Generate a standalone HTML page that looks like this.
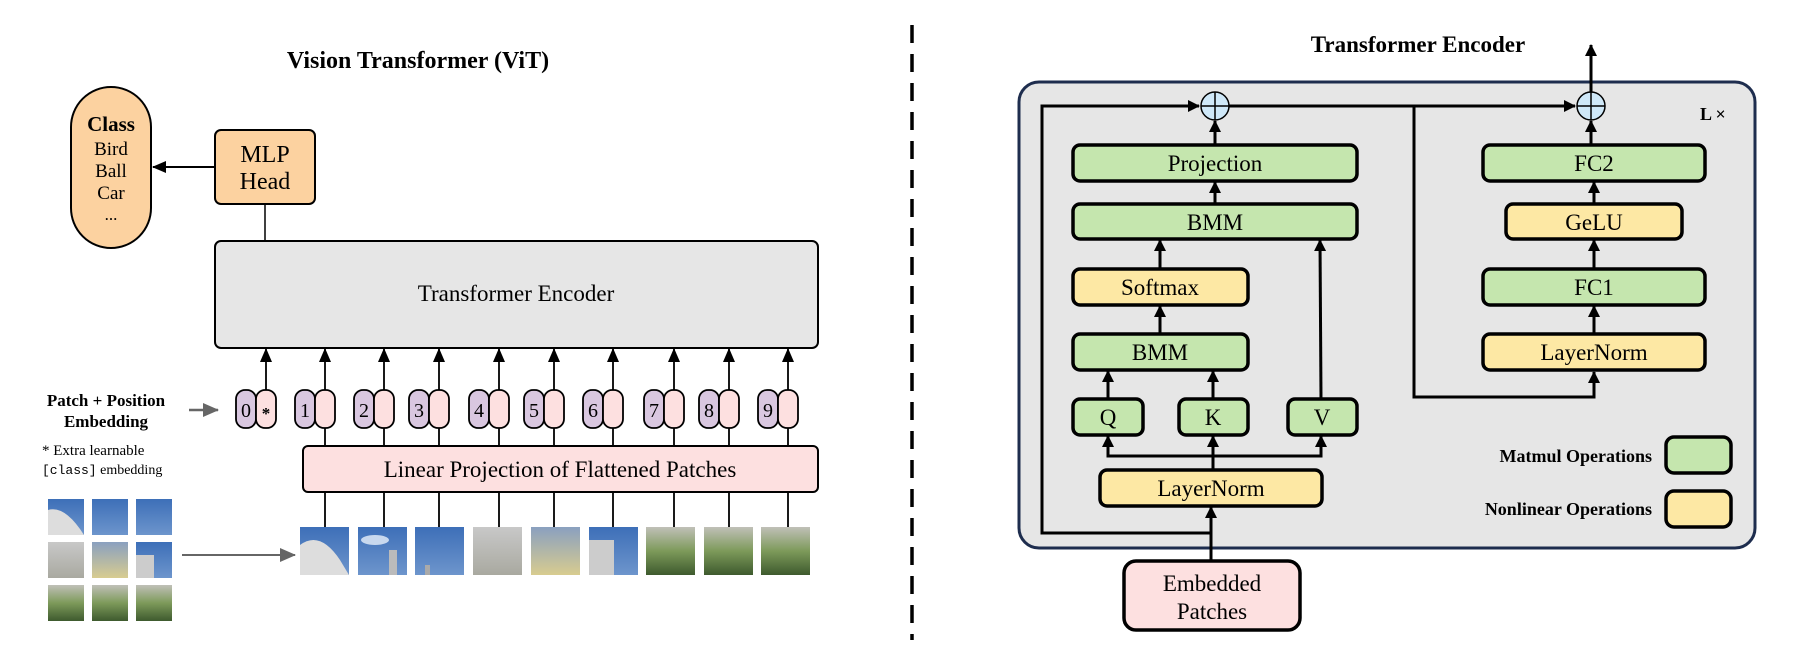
<!DOCTYPE html>
<html><head><meta charset="utf-8"><style>
html,body{margin:0;padding:0;background:#fff;}
svg{display:block;font-family:"Liberation Serif",serif;}
</style></head><body>
<svg width="1810" height="656" viewBox="0 0 1810 656" xmlns="http://www.w3.org/2000/svg">
<defs>
<marker id="a" markerWidth="12" markerHeight="12" refX="11" refY="6" orient="auto" markerUnits="userSpaceOnUse"><path d="M0,0 L12,6 L0,12 z" fill="#000"/></marker>
<marker id="b" markerWidth="14" markerHeight="12" refX="13" refY="6" orient="auto" markerUnits="userSpaceOnUse"><path d="M0,0 L14,6 L0,12 z" fill="#000"/></marker>
<marker id="g" markerWidth="16" markerHeight="14" refX="15" refY="7" orient="auto" markerUnits="userSpaceOnUse"><path d="M0,0 L16,7 L0,14 z" fill="#666"/></marker>
<linearGradient id="sky" x1="0" y1="0" x2="0" y2="1"><stop offset="0" stop-color="#3d6fb8"/><stop offset="1" stop-color="#6d95cc"/></linearGradient>
<linearGradient id="bld" x1="0" y1="0" x2="0" y2="1"><stop offset="0" stop-color="#c8c8c8"/><stop offset="1" stop-color="#a9a9a0"/></linearGradient>
<linearGradient id="yel" x1="0" y1="0" x2="0" y2="1"><stop offset="0" stop-color="#8aa0c0"/><stop offset="1" stop-color="#d8cc90"/></linearGradient>
<linearGradient id="grn" x1="0" y1="0" x2="0" y2="1"><stop offset="0" stop-color="#c0c0b8"/><stop offset="0.5" stop-color="#7d9a5a"/><stop offset="1" stop-color="#3e5a2e"/></linearGradient>
</defs>

<text x="418" y="68" font-size="24" font-weight="bold" text-anchor="middle">Vision Transformer (ViT)</text>

<rect x="71" y="87" width="80" height="161" rx="40" fill="#fcd2a0" stroke="#000" stroke-width="2"/>
<text x="111" y="131" font-size="21" font-weight="bold" text-anchor="middle">Class</text>
<text x="111" y="155" font-size="19" text-anchor="middle">Bird</text>
<text x="111" y="177" font-size="19" text-anchor="middle">Ball</text>
<text x="111" y="199" font-size="19" text-anchor="middle">Car</text>
<text x="111" y="220" font-size="17" text-anchor="middle">...</text>

<rect x="215" y="130" width="100" height="74" rx="6" fill="#fcd2a0" stroke="#000" stroke-width="2"/>
<text x="265" y="162" font-size="24" text-anchor="middle">MLP</text>
<text x="265" y="189" font-size="24" text-anchor="middle">Head</text>
<line x1="215" y1="167" x2="153" y2="167" stroke="#000" stroke-width="2" marker-end="url(#b)"/>
<line x1="265" y1="204" x2="265" y2="241" stroke="#000" stroke-width="1.5"/>

<rect x="215" y="241" width="603" height="107" rx="6" fill="#e6e6e6" stroke="#000" stroke-width="2"/>
<text x="516" y="301" font-size="23" text-anchor="middle">Transformer Encoder</text>

<text x="106" y="406" font-size="17" font-weight="bold" text-anchor="middle">Patch + Position</text>
<text x="106" y="427" font-size="17" font-weight="bold" text-anchor="middle">Embedding</text>
<line x1="189" y1="410" x2="218" y2="410" stroke="#666" stroke-width="2.5" marker-end="url(#g)"/>
<text x="42" y="455" font-size="15">* Extra learnable</text>
<text x="42" y="474" font-size="14"><tspan font-family="Liberation Mono,monospace" font-size="13">[class]</tspan> embedding</text>

<g font-size="20" text-anchor="middle">
<rect x="236" y="390" width="20" height="38" rx="9" fill="#d9c7e0" stroke="#000" stroke-width="1.8"/><rect x="256" y="390" width="20" height="38" rx="9" fill="#fde0e0" stroke="#000" stroke-width="1.8"/><text x="246" y="417">0</text><text x="266" y="419" font-size="17" font-weight="bold">*</text>
<rect x="295" y="390" width="20" height="38" rx="9" fill="#d9c7e0" stroke="#000" stroke-width="1.8"/><rect x="315" y="390" width="20" height="38" rx="9" fill="#fde0e0" stroke="#000" stroke-width="1.8"/><text x="305" y="417">1</text>
<rect x="354" y="390" width="20" height="38" rx="9" fill="#d9c7e0" stroke="#000" stroke-width="1.8"/><rect x="374" y="390" width="20" height="38" rx="9" fill="#fde0e0" stroke="#000" stroke-width="1.8"/><text x="364" y="417">2</text>
<rect x="409" y="390" width="20" height="38" rx="9" fill="#d9c7e0" stroke="#000" stroke-width="1.8"/><rect x="429" y="390" width="20" height="38" rx="9" fill="#fde0e0" stroke="#000" stroke-width="1.8"/><text x="419" y="417">3</text>
<rect x="469" y="390" width="20" height="38" rx="9" fill="#d9c7e0" stroke="#000" stroke-width="1.8"/><rect x="489" y="390" width="20" height="38" rx="9" fill="#fde0e0" stroke="#000" stroke-width="1.8"/><text x="479" y="417">4</text>
<rect x="524" y="390" width="20" height="38" rx="9" fill="#d9c7e0" stroke="#000" stroke-width="1.8"/><rect x="544" y="390" width="20" height="38" rx="9" fill="#fde0e0" stroke="#000" stroke-width="1.8"/><text x="534" y="417">5</text>
<rect x="583" y="390" width="20" height="38" rx="9" fill="#d9c7e0" stroke="#000" stroke-width="1.8"/><rect x="603" y="390" width="20" height="38" rx="9" fill="#fde0e0" stroke="#000" stroke-width="1.8"/><text x="593" y="417">6</text>
<rect x="644" y="390" width="20" height="38" rx="9" fill="#d9c7e0" stroke="#000" stroke-width="1.8"/><rect x="664" y="390" width="20" height="38" rx="9" fill="#fde0e0" stroke="#000" stroke-width="1.8"/><text x="654" y="417">7</text>
<rect x="699" y="390" width="20" height="38" rx="9" fill="#d9c7e0" stroke="#000" stroke-width="1.8"/><rect x="719" y="390" width="20" height="38" rx="9" fill="#fde0e0" stroke="#000" stroke-width="1.8"/><text x="709" y="417">8</text>
<rect x="758" y="390" width="20" height="38" rx="9" fill="#d9c7e0" stroke="#000" stroke-width="1.8"/><rect x="778" y="390" width="20" height="38" rx="9" fill="#fde0e0" stroke="#000" stroke-width="1.8"/><text x="768" y="417">9</text>
</g>
<g stroke="#000" stroke-width="1.8">
<line x1="266" y1="390" x2="266" y2="349" marker-end="url(#b)"/>
<line x1="325" y1="390" x2="325" y2="349" marker-end="url(#b)"/>
<line x1="384" y1="390" x2="384" y2="349" marker-end="url(#b)"/>
<line x1="439" y1="390" x2="439" y2="349" marker-end="url(#b)"/>
<line x1="499" y1="390" x2="499" y2="349" marker-end="url(#b)"/>
<line x1="554" y1="390" x2="554" y2="349" marker-end="url(#b)"/>
<line x1="613" y1="390" x2="613" y2="349" marker-end="url(#b)"/>
<line x1="674" y1="390" x2="674" y2="349" marker-end="url(#b)"/>
<line x1="729" y1="390" x2="729" y2="349" marker-end="url(#b)"/>
<line x1="788" y1="390" x2="788" y2="349" marker-end="url(#b)"/>
<line x1="325" y1="428" x2="325" y2="446"/><line x1="384" y1="428" x2="384" y2="446"/><line x1="439" y1="428" x2="439" y2="446"/><line x1="499" y1="428" x2="499" y2="446"/><line x1="554" y1="428" x2="554" y2="446"/><line x1="613" y1="428" x2="613" y2="446"/><line x1="674" y1="428" x2="674" y2="446"/><line x1="729" y1="428" x2="729" y2="446"/><line x1="788" y1="428" x2="788" y2="446"/>
<line x1="325" y1="492" x2="325" y2="527"/><line x1="384" y1="492" x2="384" y2="527"/><line x1="439" y1="492" x2="439" y2="527"/><line x1="499" y1="492" x2="499" y2="527"/><line x1="554" y1="492" x2="554" y2="527"/><line x1="613" y1="492" x2="613" y2="527"/><line x1="674" y1="492" x2="674" y2="527"/><line x1="729" y1="492" x2="729" y2="527"/><line x1="788" y1="492" x2="788" y2="527"/>
</g>
<rect x="303" y="446" width="515" height="46" rx="5" fill="#fde0e0" stroke="#000" stroke-width="2"/>
<text x="560" y="477" font-size="23" text-anchor="middle">Linear Projection of Flattened Patches</text>

<rect x="300" y="527" width="49" height="48" fill="url(#sky)"/><path d="M300,545 Q320,530 340,560 L349,575 L300,575z" fill="#ddd"/>
<rect x="358" y="527" width="49" height="48" fill="url(#sky)"/><ellipse cx="375" cy="540" rx="14" ry="5" fill="#c8d8ee"/><rect x="389" y="550" width="8" height="25" fill="#bbb"/>
<rect x="415" y="527" width="49" height="48" fill="url(#sky)"/><rect x="425" y="565" width="5" height="10" fill="#aaa"/>
<rect x="473" y="527" width="49" height="48" fill="url(#bld)"/>
<rect x="531" y="527" width="49" height="48" fill="url(#yel)"/>
<rect x="589" y="527" width="49" height="48" fill="url(#sky)"/><rect x="589" y="540" width="25" height="35" fill="#ccc"/>
<rect x="646" y="527" width="49" height="48" fill="url(#grn)"/>
<rect x="704" y="527" width="49" height="48" fill="url(#grn)"/>
<rect x="761" y="527" width="49" height="48" fill="url(#grn)"/>
<rect x="48" y="499" width="36" height="36" fill="url(#sky)"/><path d="M48,510 Q65,505 84,535 L48,535z" fill="#ddd"/>
<rect x="92" y="499" width="36" height="36" fill="url(#sky)"/>
<rect x="136" y="499" width="36" height="36" fill="url(#sky)"/>
<rect x="48" y="542" width="36" height="36" fill="url(#bld)"/>
<rect x="92" y="542" width="36" height="36" fill="url(#yel)"/>
<rect x="136" y="542" width="36" height="36" fill="url(#sky)"/><rect x="136" y="555" width="18" height="23" fill="#ccc"/>
<rect x="48" y="585" width="36" height="36" fill="url(#grn)"/>
<rect x="92" y="585" width="36" height="36" fill="url(#grn)"/>
<rect x="136" y="585" width="36" height="36" fill="url(#grn)"/>
<line x1="182" y1="555" x2="295" y2="555" stroke="#666" stroke-width="2" marker-end="url(#g)"/>

<line x1="912" y1="25" x2="912" y2="640" stroke="#000" stroke-width="3.5" stroke-dasharray="18,11"/>

<text x="1418" y="52" font-size="23" font-weight="bold" text-anchor="middle">Transformer Encoder</text>
<rect x="1019" y="82" width="736" height="466" rx="20" fill="#e6e6e6" stroke="#1e2d4e" stroke-width="3"/>
<text x="1700" y="120" font-size="18" font-weight="bold">L ×</text>

<g stroke="#000" stroke-width="3" fill="none">
<polyline points="1211,561 1211,533 1042,533 1042,106 1199,106" marker-end="url(#a)"/>
<line x1="1211" y1="561" x2="1211" y2="507" marker-end="url(#a)"/>
<line x1="1229" y1="106" x2="1575" y2="106" marker-end="url(#a)"/>
<polyline points="1414,106 1414,397 1594,397 1594,372" marker-end="url(#a)"/>
<line x1="1591" y1="92" x2="1591" y2="45" marker-end="url(#a)"/>
<line x1="1215" y1="145" x2="1215" y2="121" marker-end="url(#a)"/>
<line x1="1215" y1="204" x2="1215" y2="182" marker-end="url(#a)"/>
<line x1="1160" y1="269" x2="1160" y2="240" marker-end="url(#a)"/>
<line x1="1160" y1="334" x2="1160" y2="306" marker-end="url(#a)"/>
<line x1="1108" y1="399" x2="1108" y2="371" marker-end="url(#a)"/>
<line x1="1213" y1="399" x2="1213" y2="371" marker-end="url(#a)"/>
<line x1="1321" y1="399" x2="1320" y2="240" marker-end="url(#a)"/>
<polyline points="1108,436 1108,456 1321,456 1321,436"/>
<line x1="1108" y1="456" x2="1108" y2="436" marker-end="url(#a)"/>
<line x1="1321" y1="456" x2="1321" y2="436" marker-end="url(#a)"/>
<line x1="1213" y1="470" x2="1213" y2="436" marker-end="url(#a)"/>
<line x1="1591" y1="145" x2="1591" y2="121" marker-end="url(#a)"/>
<line x1="1594" y1="204" x2="1594" y2="182" marker-end="url(#a)"/>
<line x1="1594" y1="269" x2="1594" y2="240" marker-end="url(#a)"/>
<line x1="1594" y1="334" x2="1594" y2="306" marker-end="url(#a)"/>
</g>
<g stroke="#000" stroke-width="1.5">
<circle cx="1215" cy="106" r="14" fill="#cfe8f8"/><line x1="1201" y1="106" x2="1229" y2="106"/><line x1="1215" y1="92" x2="1215" y2="120"/>
<circle cx="1591" cy="106" r="14" fill="#cfe8f8"/><line x1="1577" y1="106" x2="1605" y2="106"/><line x1="1591" y1="92" x2="1591" y2="120"/>
</g>

<g stroke="#000" stroke-width="3.5">
<rect x="1073" y="145" width="284" height="36" rx="7" fill="#c5e6ae"/>
<rect x="1073" y="204" width="284" height="35" rx="7" fill="#c5e6ae"/>
<rect x="1073" y="269" width="175" height="36" rx="7" fill="#fde8a4"/>
<rect x="1073" y="334" width="175" height="36" rx="7" fill="#c5e6ae"/>
<rect x="1073" y="399" width="70" height="36" rx="7" fill="#c5e6ae"/>
<rect x="1179" y="399" width="69" height="36" rx="7" fill="#c5e6ae"/>
<rect x="1288" y="399" width="69" height="36" rx="7" fill="#c5e6ae"/>
<rect x="1100" y="470" width="222" height="36" rx="7" fill="#fde8a4"/>
<rect x="1124" y="561" width="176" height="69" rx="12" fill="#fde0e0"/>
<rect x="1483" y="145" width="222" height="36" rx="7" fill="#c5e6ae"/>
<rect x="1506" y="204" width="176" height="35" rx="7" fill="#fde8a4"/>
<rect x="1483" y="269" width="222" height="36" rx="7" fill="#c5e6ae"/>
<rect x="1483" y="334" width="222" height="36" rx="7" fill="#fde8a4"/>
<rect x="1666" y="437" width="65" height="36" rx="8" fill="#c5e6ae"/>
<rect x="1666" y="491" width="65" height="36" rx="8" fill="#fde8a4"/>
</g>
<g font-size="23" text-anchor="middle">
<text x="1215" y="171">Projection</text>
<text x="1215" y="230">BMM</text>
<text x="1160" y="295">Softmax</text>
<text x="1160" y="360">BMM</text>
<text x="1108" y="425">Q</text>
<text x="1213" y="425">K</text>
<text x="1322" y="425">V</text>
<text x="1211" y="496">LayerNorm</text>
<text x="1212" y="591">Embedded</text>
<text x="1212" y="619">Patches</text>
<text x="1594" y="171">FC2</text>
<text x="1594" y="230">GeLU</text>
<text x="1594" y="295">FC1</text>
<text x="1594" y="360">LayerNorm</text>
</g>
<text x="1652" y="462" font-size="18" font-weight="bold" text-anchor="end">Matmul Operations</text>
<text x="1652" y="515" font-size="18" font-weight="bold" text-anchor="end">Nonlinear Operations</text>
</svg>
</body></html>
